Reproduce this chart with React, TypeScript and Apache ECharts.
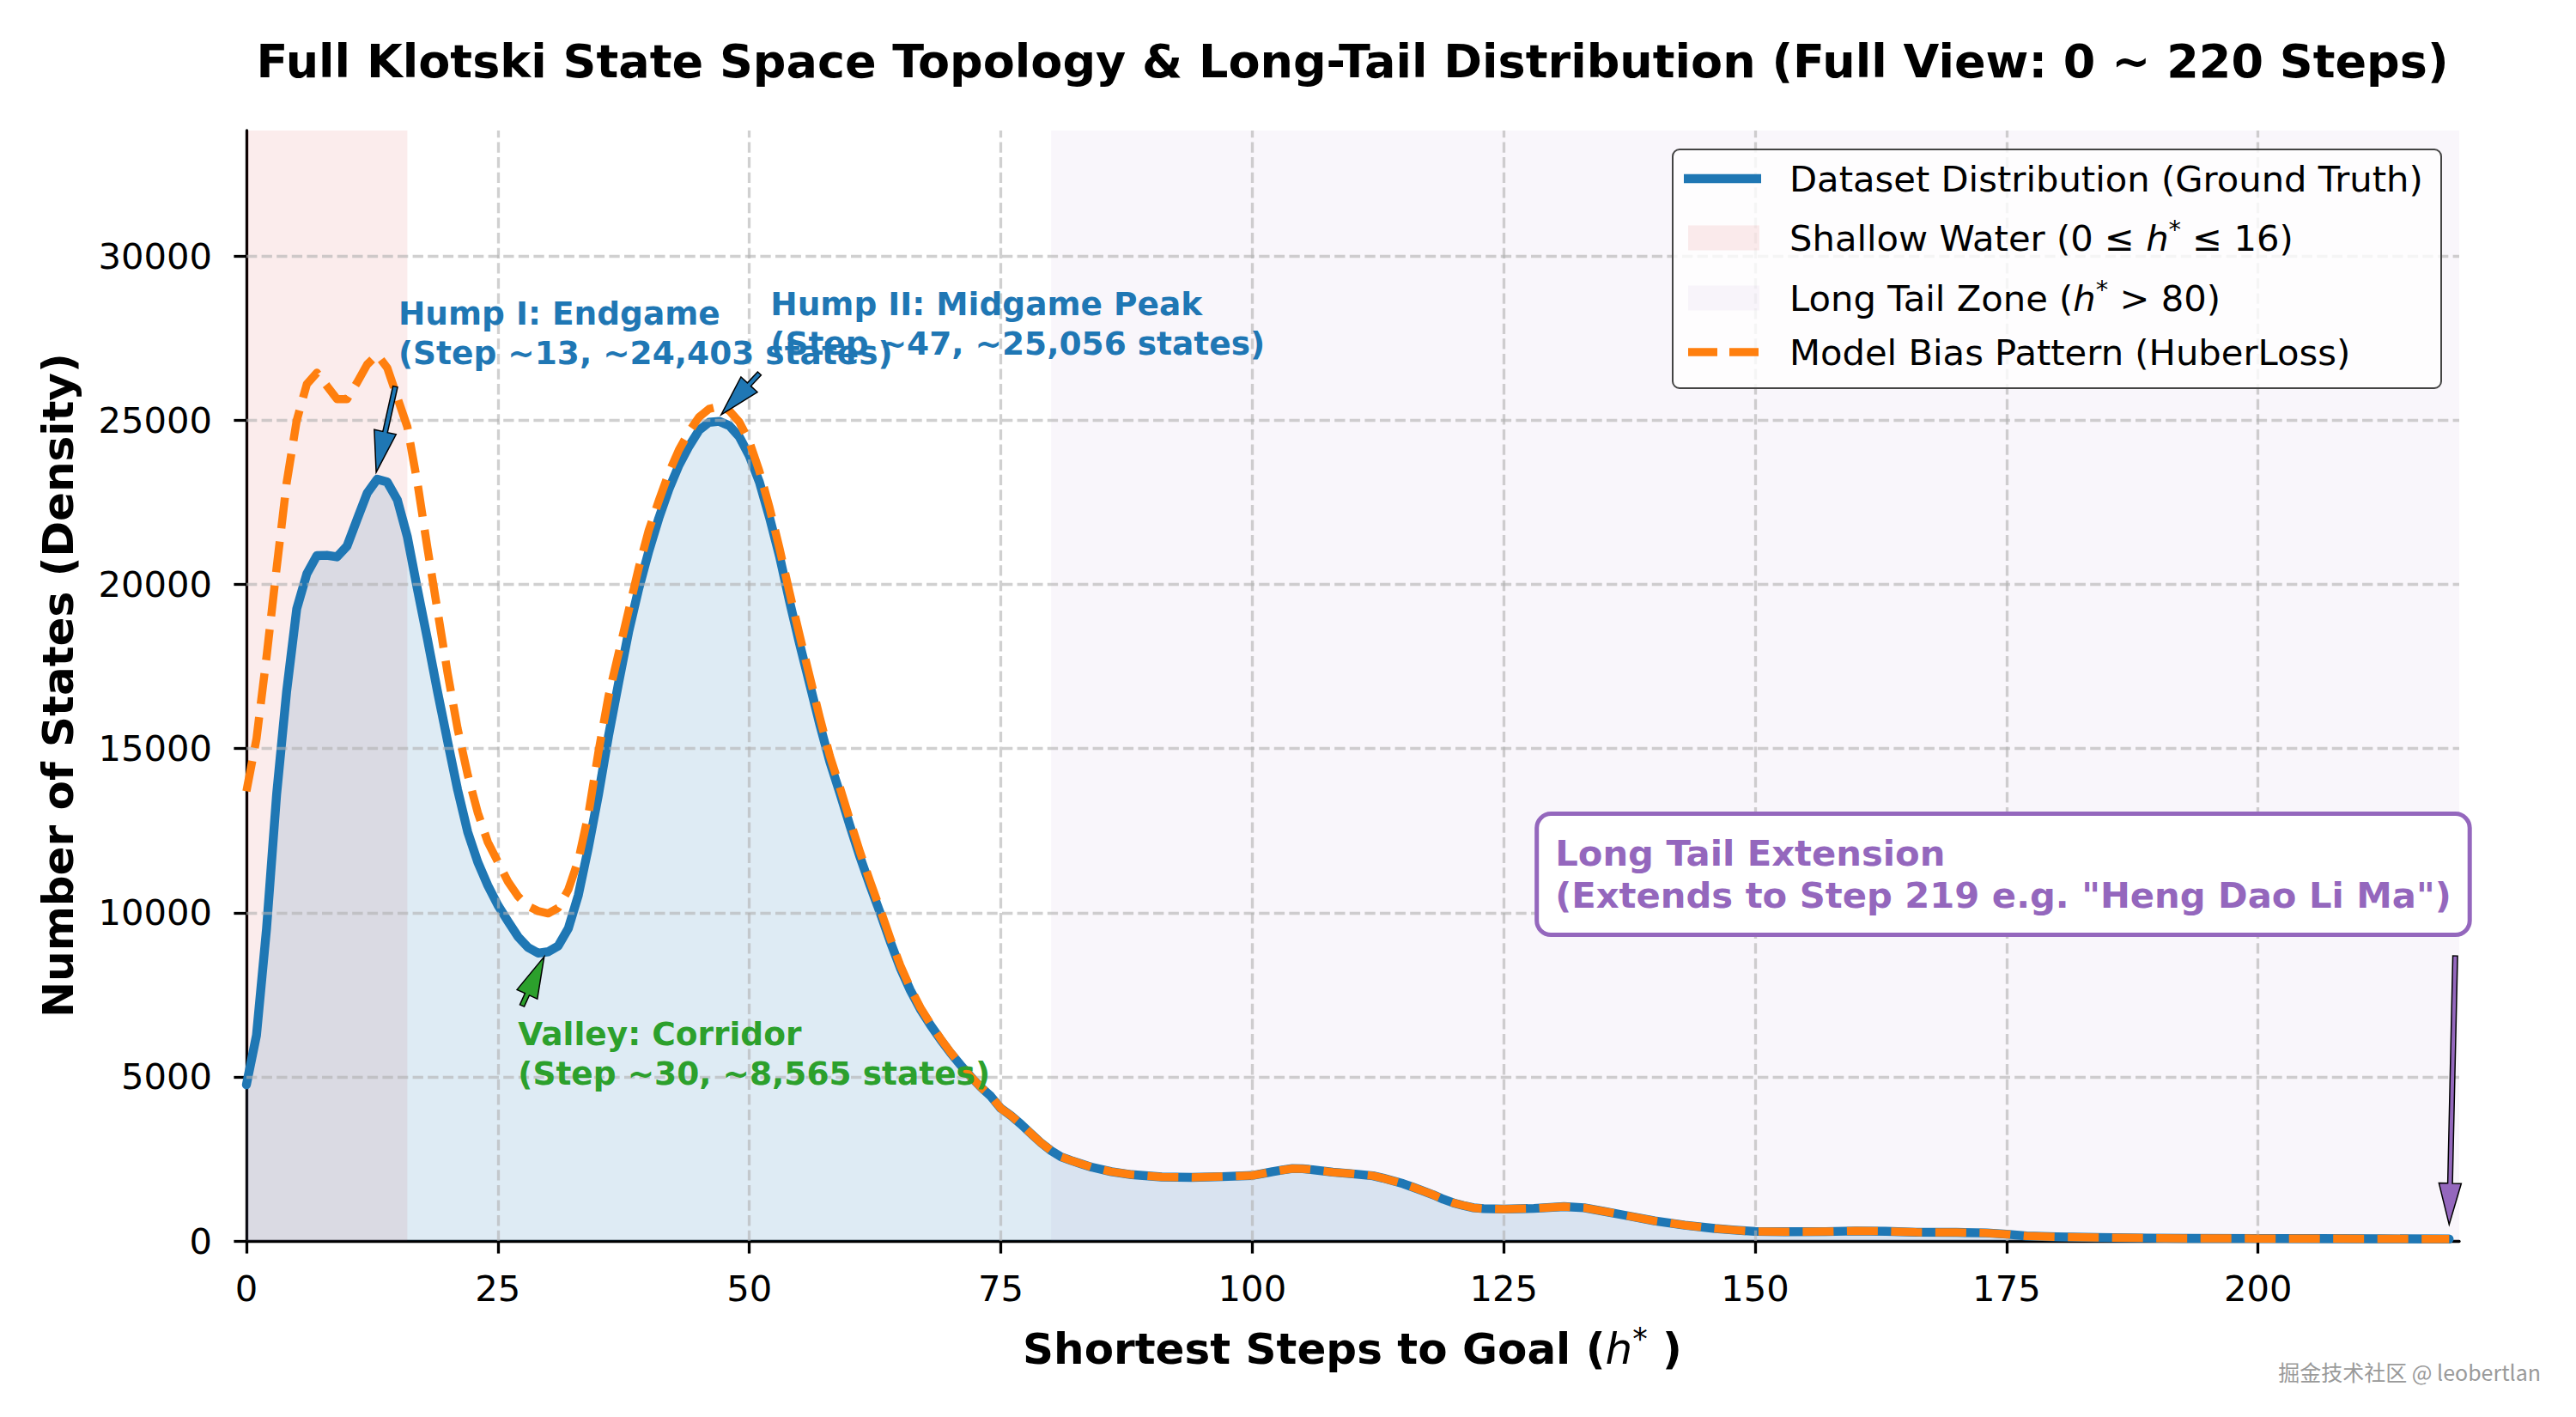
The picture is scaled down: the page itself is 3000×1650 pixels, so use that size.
import React, { useEffect, useRef } from "react";
import * as echarts from "echarts";

// ---------- data ----------
const steps = [
  0, 1, 2, 3, 4, 5, 6, 7, 8, 9, 10, 11, 12, 13, 14, 15, 16, 17, 18, 19, 20,
  21, 22, 23, 24, 25, 26, 27, 28, 29, 30, 31, 32, 33, 34, 35, 36, 37, 38, 39, 40,
  41, 42, 43, 44, 45, 46, 47, 48, 49, 50, 51, 52, 53, 54, 55, 56, 57, 58, 59, 60,
  61, 62, 63, 64, 65, 66, 67, 68, 69, 70, 71, 72, 73, 74, 75, 76, 77, 78, 79, 80,
  81, 82, 83, 84, 86, 88, 91, 94, 97, 100, 101, 102, 103, 104, 105, 106, 108, 110,
  112, 113, 114, 115, 116, 117, 118, 119, 120, 121, 122, 123, 125, 128, 131, 133,
  135, 137, 140, 143, 146, 148, 150, 153, 157, 160, 163, 166, 170, 173, 175, 177,
  180, 184, 189, 193, 200, 206, 212, 219,
];

const groundTruthStates = [
  4760, 6270, 9520, 13600, 16750, 19260, 20320, 20880, 20890, 20840, 21170,
  21980, 22780, 23210, 23120, 22580, 21450, 19860, 18330, 16730, 15220,
  13740, 12460, 11540, 10830, 10230, 9740, 9270, 8940, 8770, 8810,
  8990, 9520, 10540, 11990, 13600, 15390, 17000, 18560, 19870, 21010,
  22020, 22900, 23630, 24210, 24700, 24940, 24970, 24840, 24500, 23920,
  23120, 22050, 20860, 19480, 18190, 16970, 15740, 14600, 13650, 12650,
  11700, 10830, 10000, 9130, 8320, 7640, 7060, 6580, 6140, 5730,
  5360, 5010, 4690, 4410, 4040, 3820, 3560, 3270, 2990, 2750,
  2560, 2450, 2350, 2250, 2110, 2020, 1950, 1935, 1960, 1995, 2050, 2110, 2160, 2205, 2200, 2170, 2095, 2045,
  1985, 1915, 1830, 1745, 1635, 1520, 1405, 1270, 1160, 1080, 1010, 985, 970, 990, 1045, 1010,
  900, 785, 610, 480, 380, 330, 290, 280, 285, 305, 295, 265, 260, 245, 205, 150,
  125, 105, 88, 78, 75, 70, 65, 60,
];

const modelBiasStates = [
  13700, 15300, 17800, 20500, 23100, 25000, 26100, 26450, 26050, 25650, 25650,
  26150, 26700, 27000, 26600, 25700, 24800, 23100, 21100, 19200, 17300,
  15600, 14200, 13050, 12150, 11550, 10950, 10500, 10200, 10050, 9980,
  10150, 10700, 11600, 13000, 14900, 16600, 17900, 19200, 20500, 21650,
  22550, 23400, 24100, 24650, 25100, 25350, 25420, 25300, 24950, 24350,
  23450, 22350, 21100, 19750, 18450, 17200, 15950, 14780, 13820, 12820,
  11850, 10960, 10110, 9230, 8400, 7710, 7110, 6620, 6170, 5750,
  5370, 5010, 4690, 4410, 4040, 3820, 3560, 3270, 2990, 2750,
  2560, 2450, 2350, 2250, 2110, 2020, 1950, 1935, 1960, 1995, 2050, 2110, 2160, 2205, 2200, 2170, 2095, 2045,
  1985, 1915, 1830, 1745, 1635, 1520, 1405, 1270, 1160, 1080, 1010, 985, 970, 990, 1045, 1010,
  900, 785, 610, 480, 380, 330, 290, 280, 285, 305, 295, 265, 260, 245, 205, 150,
  125, 105, 88, 78, 75, 70, 65, 60,
];

const xTicks = [0, 25, 50, 75, 100, 125, 150, 175, 200];
const yTicks = [0, 5000, 10000, 15000, 20000, 25000, 30000];
const xMax = 220;
const yMax = 33830;

const shallowZone = [0, 16];
const longTailZone = [80, 220];

const titleText =
  "Full Klotski State Space Topology & Long-Tail Distribution (Full View: 0 ~ 220 Steps)";
const legendNames = [
  "Dataset Distribution (Ground Truth)",
  "Shallow Water",
  "Long Tail Zone",
  "Model Bias Pattern (HuberLoss)",
];

// annotations: text anchor (left, vertical middle), arrow tail and tip, all in data coords
const humpOneLines = ["Hump I: Endgame", "(Step ~13, ~24,403 states)"];
const humpOneText = [15.1, 27650];
const humpOneArrow = [[14.8, 26030], [12.9, 23420]];

const humpTwoLines = ["Hump II: Midgame Peak", "(Step ~47, ~25,056 states)"];
const humpTwoText = [52.1, 27940];
const humpTwoArrow = [[51.0, 26430], [47.2, 25170]];

const valleyLines = ["Valley: Corridor", "(Step ~30, ~8,565 states)"];
const valleyText = [27.0, 5700];
const valleyArrow = [[27.4, 7170], [29.6, 8660]];

const tailLines = ["Long Tail Extension", '(Extends to Step 219 e.g. "Heng Dao Li Ma")'];
const tailBox = [128.5, 11170];
const tailArrow = [[219.6, 8685], [219.0, 500]];

// ---------- styles ----------
const FONT = '"DejaVu Sans"';
const BLUE = "#1f77b4";
const ORANGE = "#ff7f0e";
const GREEN = "#2ca02c";
const PURPLE = "#9467bd";
const SHALLOW_FILL = "rgba(214,39,40,0.085)";
const TAIL_FILL = "rgba(148,103,189,0.06)";
const GRID_COLOR = "rgba(176,176,176,0.6)";

function arrowPoints(tail: number[], tip: number[], w: number, hw: number, hl: number) {
  const dx = tip[0] - tail[0];
  const dy = tip[1] - tail[1];
  const L = Math.hypot(dx, dy);
  const ux = dx / L;
  const uy = dy / L;
  const px = -uy;
  const py = ux;
  const bx = tip[0] - ux * hl;
  const by = tip[1] - uy * hl;
  return [
    [tail[0] + (px * w) / 2, tail[1] + (py * w) / 2],
    [bx + (px * w) / 2, by + (py * w) / 2],
    [bx + (px * hw) / 2, by + (py * hw) / 2],
    [tip[0], tip[1]],
    [bx - (px * hw) / 2, by - (py * hw) / 2],
    [bx - (px * w) / 2, by - (py * w) / 2],
    [tail[0] - (px * w) / 2, tail[1] - (py * w) / 2],
  ];
}

export default function App() {
  const ref = useRef<HTMLDivElement>(null);

  useEffect(() => {
    const prevMargin = document.body.style.margin;
    document.body.style.margin = "0";
    const chart = echarts.init(ref.current as HTMLDivElement, null, { renderer: "svg" });

    const gtData = steps.map((s, i) => [s, groundTruthStates[i]]);
    const modelData = steps.map((s, i) => [s, modelBiasStates[i]]);

    const axisCommon = {
      axisLine: { show: true, onZero: false, lineStyle: { color: "#000", width: 3.3 } },
      splitLine: { show: false },
    };

    chart.setOption({
      animation: false,
      grid: { left: 287, top: 152, width: 2577, height: 1293, containLabel: false, outerBoundsMode: "none" },
      xAxis: {
        type: "value",
        min: 0,
        max: xMax,
        interval: 25,
        ...axisCommon,
        axisTick: { show: true, length: 14.6, customValues: xTicks, lineStyle: { color: "#000", width: 3.3 } },
        axisLabel: {
          customValues: xTicks,
          formatter: (v: number) => String(v),
          margin: 34,
          fontFamily: "DejaVu Sans",
          fontSize: 41.7,
          color: "#000",
        },
      },
      yAxis: {
        type: "value",
        min: 0,
        max: yMax,
        interval: 5000,
        ...axisCommon,
        axisTick: { show: true, length: 14.6, customValues: yTicks, lineStyle: { color: "#000", width: 3.3 } },
        axisLabel: {
          customValues: yTicks,
          formatter: (v: number) => String(v),
          margin: 40,
          fontFamily: "DejaVu Sans",
          fontSize: 41.7,
          color: "#000",
        },
      },
      series: [
        {
          name: "zones",
          type: "line",
          data: [],
          z: 1,
          silent: true,
          markArea: {
            silent: true,
            label: { show: false },
            data: [
              [{ xAxis: shallowZone[0], itemStyle: { color: SHALLOW_FILL } }, { xAxis: shallowZone[1] }],
              [{ xAxis: longTailZone[0], itemStyle: { color: TAIL_FILL } }, { xAxis: longTailZone[1] }],
            ],
          },
        },
        {
          name: "fill",
          type: "line",
          data: gtData,
          z: 2,
          silent: true,
          symbol: "none",
          lineStyle: { width: 0, opacity: 0 },
          areaStyle: { color: "rgba(31,119,180,0.15)", opacity: 1 },
          emphasis: { disabled: true },
        },
        {
          name: "grid",
          type: "line",
          data: [],
          z: 3,
          silent: true,
          markLine: {
            silent: true,
            symbol: ["none", "none"],
            label: { show: false },
            lineStyle: { color: GRID_COLOR, width: 3.3, type: [12.3, 5.3] },
            emphasis: { disabled: true },
            data: [
              ...xTicks.filter((v) => v > 0).map((v) => ({ xAxis: v })),
              ...yTicks.filter((v) => v > 0).map((v) => ({ yAxis: v })),
            ],
          },
        },
        {
          name: legendNames[0],
          type: "line",
          data: gtData,
          z: 4,
          silent: true,
          symbol: "none",
          lineStyle: { color: BLUE, width: 10.4, join: "round", cap: "round" },
          emphasis: { disabled: true },
        },
        {
          name: legendNames[3],
          type: "line",
          data: modelData,
          z: 5,
          silent: true,
          symbol: "none",
          lineStyle: { color: ORANGE, width: 9.5, type: [36, 15.5], join: "round" },
          emphasis: { disabled: true },
        },
      ],
    });

    const P = (p: number[]) => chart.convertToPixel({ gridIndex: 0 }, p) as number[];

    const txt = (x: number, y: number, text: string, font: string, fill: string, align: string, vAlign: string, extra: any = {}) => ({
      type: "text",
      x,
      y,
      z: 50,
      silent: true,
      style: {
        text,
        font,
        fill,
        align,
        verticalAlign: vAlign,
        textAlign: align,
        textVerticalAlign: vAlign,
        ...extra,
      },
    });

    const arrow = (pts: number[][], color: string, w: number) => {
      const tail = P(pts[0]);
      const tip = P(pts[1]);
      return {
        type: "polygon",
        z: 49,
        silent: true,
        shape: { points: arrowPoints(tail, tip, w, 26, 48) },
        style: { fill: color, stroke: "#000", lineWidth: 1.5 },
      };
    };

    const annotationText = (anchor: number[], lines: string[], color: string) => {
      const p = P(anchor);
      return txt(p[0], p[1], lines.join("\n"), `bold 37.5px ${FONT}`, color, "left", "middle", { lineHeight: 46 });
    };

    const boxP = P(tailBox);

    const mathRich = (size: number, lh: number, supLh: number, weight: string) => ({
      r: { fontSize: size, fontFamily: "DejaVu Sans", fontWeight: weight, fill: "#000", lineHeight: lh },
      i: { fontSize: size, fontFamily: "DejaVu Sans", fontStyle: "italic", fontWeight: "normal", fill: "#000", lineHeight: lh },
      s: { fontSize: Math.round(size * 0.7), fontFamily: "DejaVu Sans", fontWeight: "normal", fill: "#000", lineHeight: supLh, verticalAlign: "top" },
    });

    const LX = 1948, LY = 174, LW = 895, LH = 278;
    const rowY = [208, 277, 347, 410];
    const legendText = (y: number, text: string) =>
      txt(2084, y, text, `41.7px ${FONT}`, "#000", "left", "middle", { rich: mathRich(41.7, 50, 34, "normal") });

    const graphics: any[] = [
      txt(1575, 71, titleText, `bold 54px ${FONT}`, "#000", "center", "middle"),
      {
        ...txt(68, 798, "Number of States (Density)", `bold 50px ${FONT}`, "#000", "center", "middle"),
        rotation: Math.PI / 2,
      },
      txt(1575, 1571, "{r|Shortest Steps to Goal (}{i|h}{s|*}{r| )}", `bold 50px ${FONT}`, "#000", "center", "middle", {
        rich: mathRich(50, 60, 38, "bold"),
      }),
      annotationText(humpOneText, humpOneLines, BLUE),
      annotationText(humpTwoText, humpTwoLines, BLUE),
      annotationText(valleyText, valleyLines, GREEN),
      arrow(humpOneArrow, BLUE, 5.5),
      arrow(humpTwoArrow, BLUE, 5.5),
      arrow(valleyArrow, GREEN, 5.5),
      arrow(tailArrow, PURPLE, 5.5),
      txt(boxP[0], boxP[1], tailLines.join("\n"), `bold 41.7px ${FONT}`, PURPLE, "left", "middle", {
        lineHeight: 49,
        backgroundColor: "#ffffff",
        borderColor: PURPLE,
        borderWidth: 5,
        borderRadius: 14,
        padding: [16, 19, 22, 19],
      }),
      // legend
      {
        type: "rect",
        z: 60,
        silent: true,
        shape: { x: LX, y: LY, width: LW, height: LH, r: 8 },
        style: { fill: "rgba(255,255,255,0.8)", stroke: "#444", lineWidth: 2 },
      },
      {
        type: "line",
        z: 61,
        silent: true,
        shape: { x1: 1961, y1: rowY[0], x2: 2051, y2: rowY[0] },
        style: { stroke: BLUE, lineWidth: 10.4 },
      },
      {
        type: "rect",
        z: 61,
        silent: true,
        shape: { x: 1966, y: rowY[1] - 14.5, width: 83, height: 29 },
        style: { fill: SHALLOW_FILL },
      },
      {
        type: "rect",
        z: 61,
        silent: true,
        shape: { x: 1966, y: rowY[2] - 14.5, width: 83, height: 29 },
        style: { fill: TAIL_FILL },
      },
      {
        type: "line",
        z: 61,
        silent: true,
        shape: { x1: 1966, y1: rowY[3], x2: 2049, y2: rowY[3] },
        style: { stroke: ORANGE, lineWidth: 9.5, lineDash: [34, 14] },
      },
      { ...legendText(rowY[0], `{r|${legendNames[0]}}`), z: 62 },
      { ...legendText(rowY[1], `{r|${legendNames[1]} (0 ≤ }{i|h}{s|*}{r| ≤ 16)}`), z: 62 },
      { ...legendText(rowY[2], `{r|${legendNames[2]} (}{i|h}{s|*}{r| > 80)}`), z: 62 },
      { ...legendText(rowY[3], `{r|${legendNames[3]}}`), z: 62 },
      // watermark
      txt(2959, 1597, "掘金技术社区 @ leobertlan", `25px "Noto Sans CJK SC"`, "#9a9a9a", "right", "middle"),
    ];

    chart.setOption({ graphic: { elements: graphics } });

    return () => {
      chart.dispose();
      document.body.style.margin = prevMargin;
    };
  }, []);

  return <div ref={ref} style={{ width: 3000, height: 1650 }} />;
}
